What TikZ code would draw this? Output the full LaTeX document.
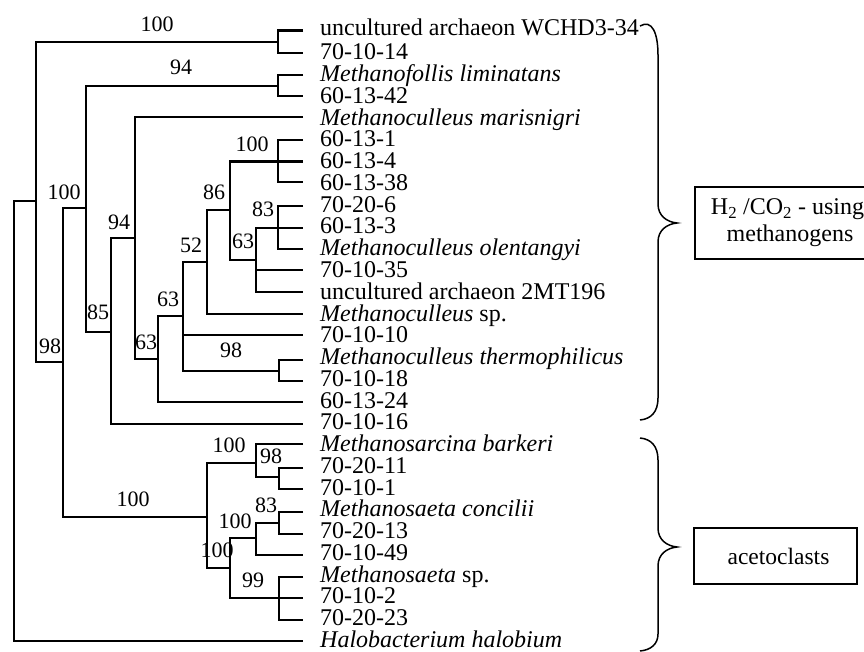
\documentclass[tikz,border=0pt]{standalone}
\usepackage{fontspec}
\setmainfont{Liberation Serif}
\begin{document}
\begin{tikzpicture}[x=1pt,y=-1pt,
  tree/.style={line width=2.9pt, line join=miter},
  leaf/.style={anchor=base west, inner sep=0pt, font=\fontsize{24}{24}\selectfont},
  bs/.style={anchor=base, inner sep=0pt, font=\fontsize{22}{22}\selectfont},
  brace/.style={line width=1.5pt},
  groupbox/.style={draw, line width=1.2pt, inner sep=0pt},
  grouptext/.style={anchor=base, inner sep=0pt, font=\fontsize{24}{24}\selectfont}]
\useasboundingbox (0,0) rectangle (864,652);
% leaf tips and labels
\foreach \i/\y/\t in {
  1/30.5/{uncultured archaeon WCHD3-34},
  2/53/{70-10-14},
  3/75/{\textit{Methanofollis liminatans}},
  4/96/{60-13-42},
  5/117/{\textit{Methanoculleus marisnigri}},
  6/140/{60-13-1},
  7/161.5/{60-13-4},
  8/182/{60-13-38},
  9/206/{70-20-6},
  10/228/{60-13-3},
  11/249/{\textit{Methanoculleus olentangyi}},
  12/270/{70-10-35},
  13/292/{uncultured archaeon 2MT196},
  14/314/{\textit{Methanoculleus} sp.},
  15/335/{70-10-10},
  16/360/{\textit{Methanoculleus thermophilicus}},
  17/381/{70-10-18},
  18/402/{60-13-24},
  19/424/{70-10-16},
  20/444/{\textit{Methanosarcina barkeri}},
  21/468/{70-20-11},
  22/489/{70-10-1},
  23/512/{\textit{Methanosaeta concilii}},
  24/534/{70-20-13},
  25/555/{70-10-49},
  26/577/{\textit{Methanosaeta} sp.},
  27/598/{70-10-2},
  28/620/{70-20-23},
  29/641/{\textit{Halobacterium halobium}}}
{
  \coordinate (t\i) at (303,\y);
  \pgfmathsetmacro{\bl}{ifthenelse(\i==1,36,60+21.75*(\i-2))}
  \node[leaf] (l\i) at (320,\bl) {\t};
}
% internal branch points
\coordinate (root) at (14,201);
\coordinate (n98) at (36,201);
\coordinate (nA) at (278,42);
\coordinate (n100b) at (63,362);
\coordinate (n94a) at (86,208);
\coordinate (nB) at (278,86);
\coordinate (n85) at (111,332);
\coordinate (n94b) at (135,238);
\coordinate (n63c) at (158,359);
\coordinate (n63b) at (183,316);
\coordinate (nC) at (279,371);
\coordinate (n52) at (207,262);
\coordinate (n86) at (230,210);
\coordinate (nD) at (278,161.5);
\coordinate (n63a) at (256,260);
\coordinate (nE) at (278,228);
\coordinate (nac) at (207,517);
\coordinate (nF) at (256,463);
\coordinate (nH) at (279,477);
\coordinate (nG) at (230,568);
\coordinate (nI) at (256,538);
\coordinate (nK) at (279,523);
\coordinate (nJ) at (279,598);
% tree
\draw[tree] (n98) -- (root) |- (t29);
\draw[tree] (nA) -| (n98) |- (n100b);
\draw[tree] (t1) -| (nA) |- (t2);
\draw[tree] (n94a) -| (n100b) |- (nac);
\draw[tree] (nB) -| (n94a) |- (n85);
\draw[tree] (t3) -| (nB) |- (t4);
\draw[tree] (n94b) -| (n85) |- (t19);
\draw[tree] (t5) -| (n94b) |- (n63c);
\draw[tree] (n63b) -| (n63c) |- (t18);
\draw[tree] (n52) -| (n63b) |- (nC);
\draw[tree] (n63b |- t15) -- (t15);
\draw[tree] (t16) -| (nC) |- (t17);
\draw[tree] (n86) -| (n52) |- (t14);
\draw[tree] (nD) -| (n86) |- (n63a);
\draw[tree] (t6) -| (nD) |- (t8);
\draw[tree] (nD) -- (t7);
\draw[tree] (nE) -| (n63a) |- (t13);
\draw[tree] (n63a |- t12) -- (t12);
\draw[tree] (t9) -| (nE) |- (t11);
\draw[tree] (nE) -- (t10);
\draw[tree] (nF) -| (nac) |- (nG);
\draw[tree] (t20) -| (nF) |- (nH);
\draw[tree] (t21) -| (nH) |- (t22);
\draw[tree] (nI) -| (nG) |- (nJ);
\draw[tree] (nK) -| (nI) |- (t25);
\draw[tree] (t23) -| (nK) |- (t24);
\draw[tree] (t26) -| (nJ) |- (t28);
\draw[tree] (nJ) -- (t27);
% bootstrap values
\foreach \x/\y/\v [count=\k] in {157/31.5/100, 181/75/94, 64/200/100, 252/152/100,
  214/200/86, 263/217/83, 243/249/63, 191/252/52, 119/230/94, 168/306/63,
  98/319/85, 146/349/63, 231/357/98, 50/353/98, 133/506/100, 229/452/100,
  271/463/98, 266/512/83, 235/528/100, 217/557/100, 253/587/99}
  \node[bs] (b\k) at (\x,\y) {\v};
% braces
\draw[brace] (640,26) .. controls (652,19) and (658,33) .. (658,55)
  -- (658,204) .. controls (658,216) and (667,222) .. (677,223)
  .. controls (667,224) and (658,230) .. (658,242)
  -- (658,398) .. controls (658,412) and (651,419) .. (640,420);
\draw[brace] (640,438) .. controls (651,439) and (658,446) .. (658,460)
  -- (658,528) .. controls (658,540) and (667,546) .. (677,547)
  .. controls (667,548) and (658,554) .. (658,566)
  -- (658,634) .. controls (658,644) and (651,650) .. (640,651);
% group boxes
\node[groupbox, minimum width=180pt, minimum height=72pt] (g1) at (785,223) {};
\node[grouptext] (g1a) at (787.5,215) {H\textsubscript{2} /CO\textsubscript{2} - using};
\node[grouptext] (g1b) at (790,242) {methanogens};
\node[groupbox, minimum width=163pt, minimum height=56pt] (g2) at (775.5,556) {};
\node[grouptext, font=\fontsize{23.5}{24}\selectfont] (g2t) at (778.5,564) {acetoclasts};
\end{tikzpicture}
\end{document}
